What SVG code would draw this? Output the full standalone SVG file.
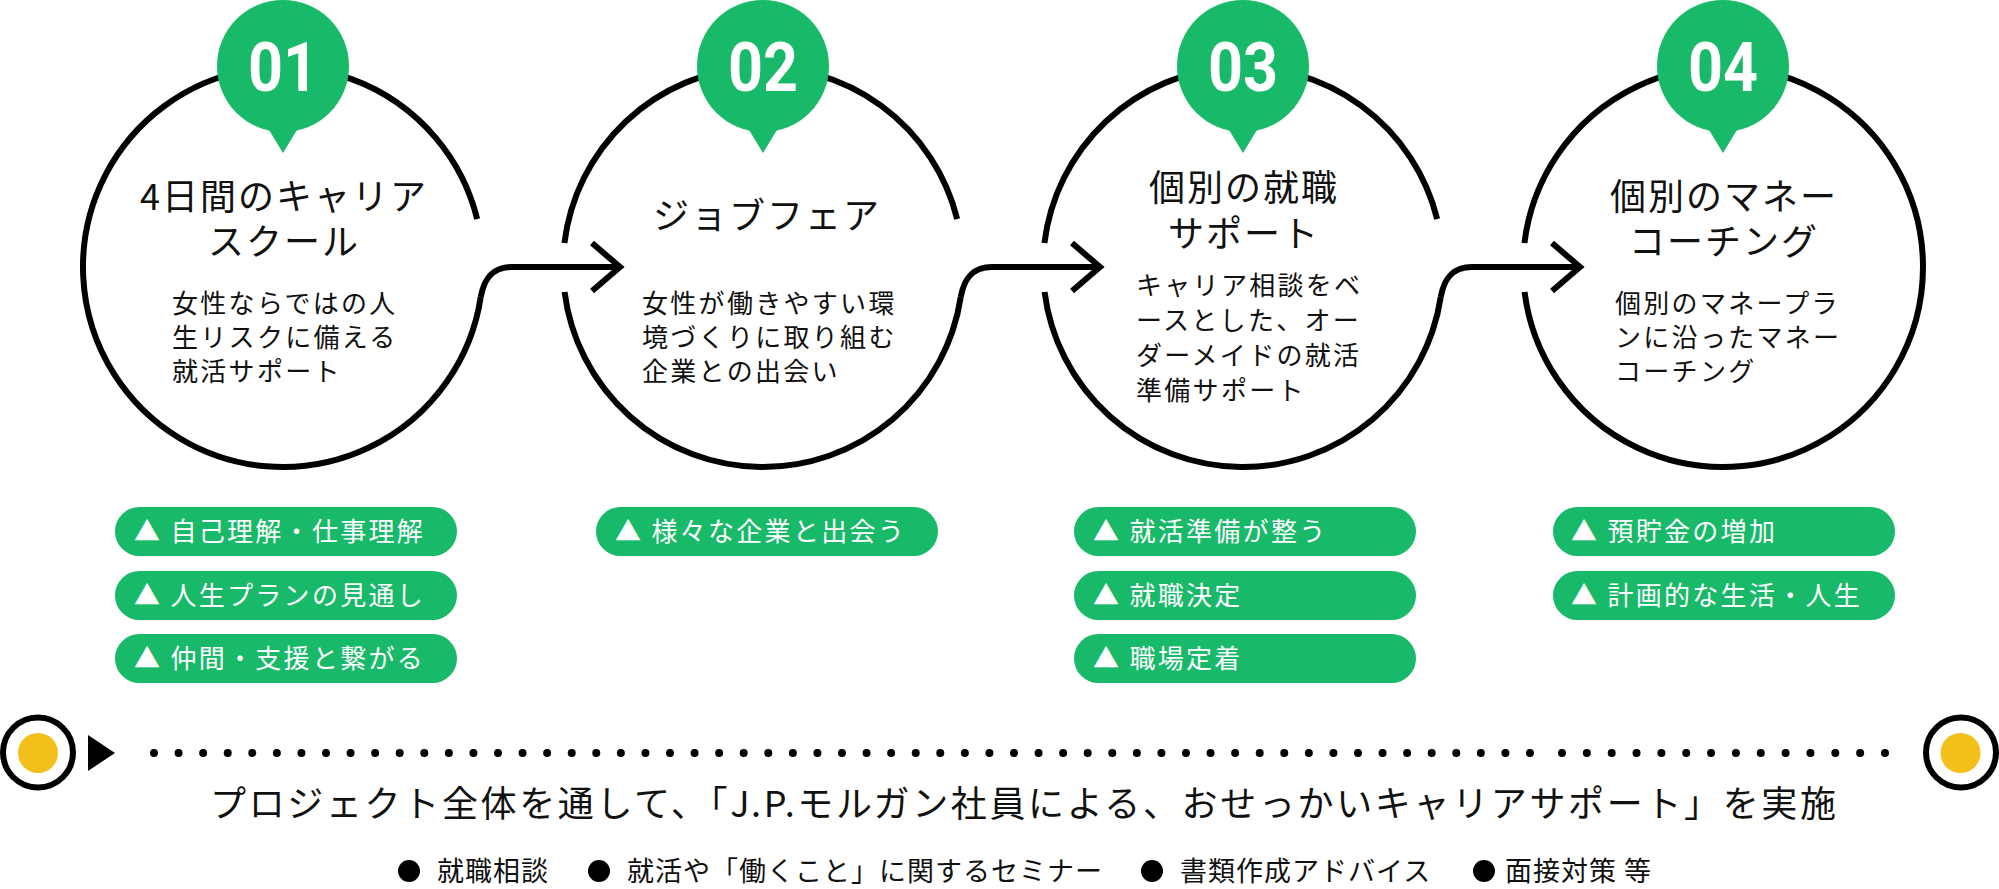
<svg xmlns="http://www.w3.org/2000/svg" width="1999" height="889" viewBox="0 0 1999 889">
<style>
  .ring{fill:none;stroke:#000;stroke-width:6;}
  .conn{fill:none;stroke:#000;stroke-width:6;stroke-linejoin:miter;}
  .badge{fill:#19B96A;}
  .num{font-family:Roboto,'Liberation Sans',sans-serif;font-weight:700;font-size:68px;fill:#fff;text-anchor:middle;}
  .title{font-family:'Noto Sans CJK JP','Noto Sans',sans-serif;font-size:36px;fill:#111;text-anchor:middle;letter-spacing:2px;}
  .body{font-family:'Noto Sans CJK JP','Noto Sans',sans-serif;font-size:26px;fill:#111;letter-spacing:2.3px;}
  .pill{fill:#19B96A;}
  .ptxt{font-family:'Noto Sans CJK JP','Noto Sans',sans-serif;font-size:26px;fill:#fff;letter-spacing:2.3px;}
  .foot{font-family:'Noto Sans CJK JP','Noto Sans',sans-serif;font-size:36px;fill:#111;letter-spacing:2px;}
  .leg{font-family:'Noto Sans CJK JP','Noto Sans',sans-serif;font-size:27px;fill:#111;letter-spacing:1px;}
  .dots{fill:none;stroke:#000;stroke-width:8;stroke-linecap:round;}
  .yel{fill:#F3BF1A;}
</style>
<rect width="1999" height="889" fill="#fff"/>

<g id="connectors">
  <path class="conn" d="M480.74,297 C483.5,282 490,267 512,267 L620,267"/>
  <path class="conn" d="M592,243 L620,267 L592,291"/>
  <path class="conn" d="M960.74,297 C963.5,282 970,267 992,267 L1100,267"/>
  <path class="conn" d="M1072,243 L1100,267 L1072,291"/>
  <path class="conn" d="M1440.74,297 C1443.5,282 1450,267 1472,267 L1580,267"/>
  <path class="conn" d="M1552,243 L1580,267 L1552,291"/>
</g>

<g id="step1">
  <path class="ring" d="M477.15,219 A200,200 0 1 0 480.74,297"/>
  <circle class="badge" cx="283" cy="66" r="66"/>
  <polygon class="badge" points="263,120 283,153 303,120"/>
  <text class="num" x="283" y="91" textLength="70" lengthAdjust="spacingAndGlyphs">01</text>
  <text class="title" y="210"><tspan x="284">4日間のキャリア</tspan><tspan x="284" dy="45">スクール</tspan></text>
  <text class="body" y="313"><tspan x="172">女性ならではの人</tspan><tspan x="172" dy="34">生リスクに備える</tspan><tspan x="172" dy="34">就活サポート</tspan></text>
  <rect class="pill" x="115" y="507" width="342" height="49" rx="24.5"/>
  <text class="ptxt" x="134" y="541">▲ 自己理解・仕事理解</text>
  <rect class="pill" x="115" y="571" width="342" height="49" rx="24.5"/>
  <text class="ptxt" x="134" y="605">▲ 人生プランの見通し</text>
  <rect class="pill" x="115" y="634" width="342" height="49" rx="24.5"/>
  <text class="ptxt" x="134" y="668">▲ 仲間・支援と繋がる</text>
</g>

<g id="step2">
  <path class="ring" d="M957.15,219 A200,200 0 0 0 564.45,243 M564.57,292 A200,200 0 0 0 960.74,297"/>
  <circle class="badge" cx="763" cy="66" r="66"/>
  <polygon class="badge" points="743,120 763,153 783,120"/>
  <text class="num" x="763" y="91" textLength="70" lengthAdjust="spacingAndGlyphs">02</text>
  <text class="title" x="767" y="229">ジョブフェア</text>
  <text class="body" y="313"><tspan x="642">女性が働きやすい環</tspan><tspan x="642" dy="34">境づくりに取り組む</tspan><tspan x="642" dy="34">企業との出会い</tspan></text>
  <rect class="pill" x="596" y="507" width="342" height="49" rx="24.5"/>
  <text class="ptxt" x="615" y="541">▲ 様々な企業と出会う</text>
</g>

<g id="step3">
  <path class="ring" d="M1437.15,219 A200,200 0 0 0 1044.45,243 M1044.57,292 A200,200 0 0 0 1440.74,297"/>
  <circle class="badge" cx="1243" cy="66" r="66"/>
  <polygon class="badge" points="1223,120 1243,153 1263,120"/>
  <text class="num" x="1243" y="91" textLength="70" lengthAdjust="spacingAndGlyphs">03</text>
  <text class="title" y="201"><tspan x="1244">個別の就職</tspan><tspan x="1244" dy="46">サポート</tspan></text>
  <text class="body" y="295"><tspan x="1136">キャリア相談をベ</tspan><tspan x="1136" dy="35">ースとした、オー</tspan><tspan x="1136" dy="35">ダーメイドの就活</tspan><tspan x="1136" dy="35">準備サポート</tspan></text>
  <rect class="pill" x="1074" y="507" width="342" height="49" rx="24.5"/>
  <text class="ptxt" x="1093" y="541">▲ 就活準備が整う</text>
  <rect class="pill" x="1074" y="571" width="342" height="49" rx="24.5"/>
  <text class="ptxt" x="1093" y="605">▲ 就職決定</text>
  <rect class="pill" x="1074" y="634" width="342" height="49" rx="24.5"/>
  <text class="ptxt" x="1093" y="668">▲ 職場定着</text>
</g>

<g id="step4">
  <path class="ring" d="M1524.57,292 A200,200 0 1 0 1524.45,243"/>
  <circle class="badge" cx="1723" cy="66" r="66"/>
  <polygon class="badge" points="1703,120 1723,153 1743,120"/>
  <text class="num" x="1723" y="91" textLength="70" lengthAdjust="spacingAndGlyphs">04</text>
  <text class="title" y="210"><tspan x="1724">個別のマネー</tspan><tspan x="1724" dy="45">コーチング</tspan></text>
  <text class="body" y="313"><tspan x="1615">個別のマネープラ</tspan><tspan x="1615" dy="34">ンに沿ったマネー</tspan><tspan x="1615" dy="34">コーチング</tspan></text>
  <rect class="pill" x="1553" y="507" width="342" height="49" rx="24.5"/>
  <text class="ptxt" x="1571" y="541">▲ 預貯金の増加</text>
  <rect class="pill" x="1553" y="571" width="342" height="49" rx="24.5"/>
  <text class="ptxt" x="1571" y="605">▲ 計画的な生活・人生</text>
</g>

<g id="timeline">
  <circle cx="38" cy="752.5" r="35" fill="none" stroke="#000" stroke-width="6"/>
  <circle class="yel" cx="38" cy="753" r="20"/>
  <polygon points="88,735 115,753 88,771" fill="#000"/>
  <path class="dots" d="M154,753 L1530,753" stroke-dasharray="0 24.571"/>
  <path class="dots" d="M1562,753 L1885,753" stroke-dasharray="0 24.846"/>
  <circle cx="1961" cy="752.5" r="35" fill="none" stroke="#000" stroke-width="6"/>
  <circle class="yel" cx="1960.5" cy="753" r="20"/>
</g>

<g id="summary">
  <text class="foot" x="210" y="817" textLength="1628" lengthAdjust="spacing">プロジェクト全体を通して、「J.P.モルガン社員による、おせっかいキャリアサポート」を実施</text>
</g>

<g id="legend">
  <circle cx="409" cy="871" r="11" fill="#000"/>
  <text class="leg" x="437" y="881">就職相談</text>
  <circle cx="599" cy="871" r="11" fill="#000"/>
  <text class="leg" x="627" y="881">就活や「働くこと」に関するセミナー</text>
  <circle cx="1152" cy="871" r="11" fill="#000"/>
  <text class="leg" x="1180" y="881">書類作成アドバイス</text>
  <circle cx="1484" cy="871" r="11" fill="#000"/>
  <text class="leg" x="1505" y="881">面接対策 等</text>
</g>
</svg>
